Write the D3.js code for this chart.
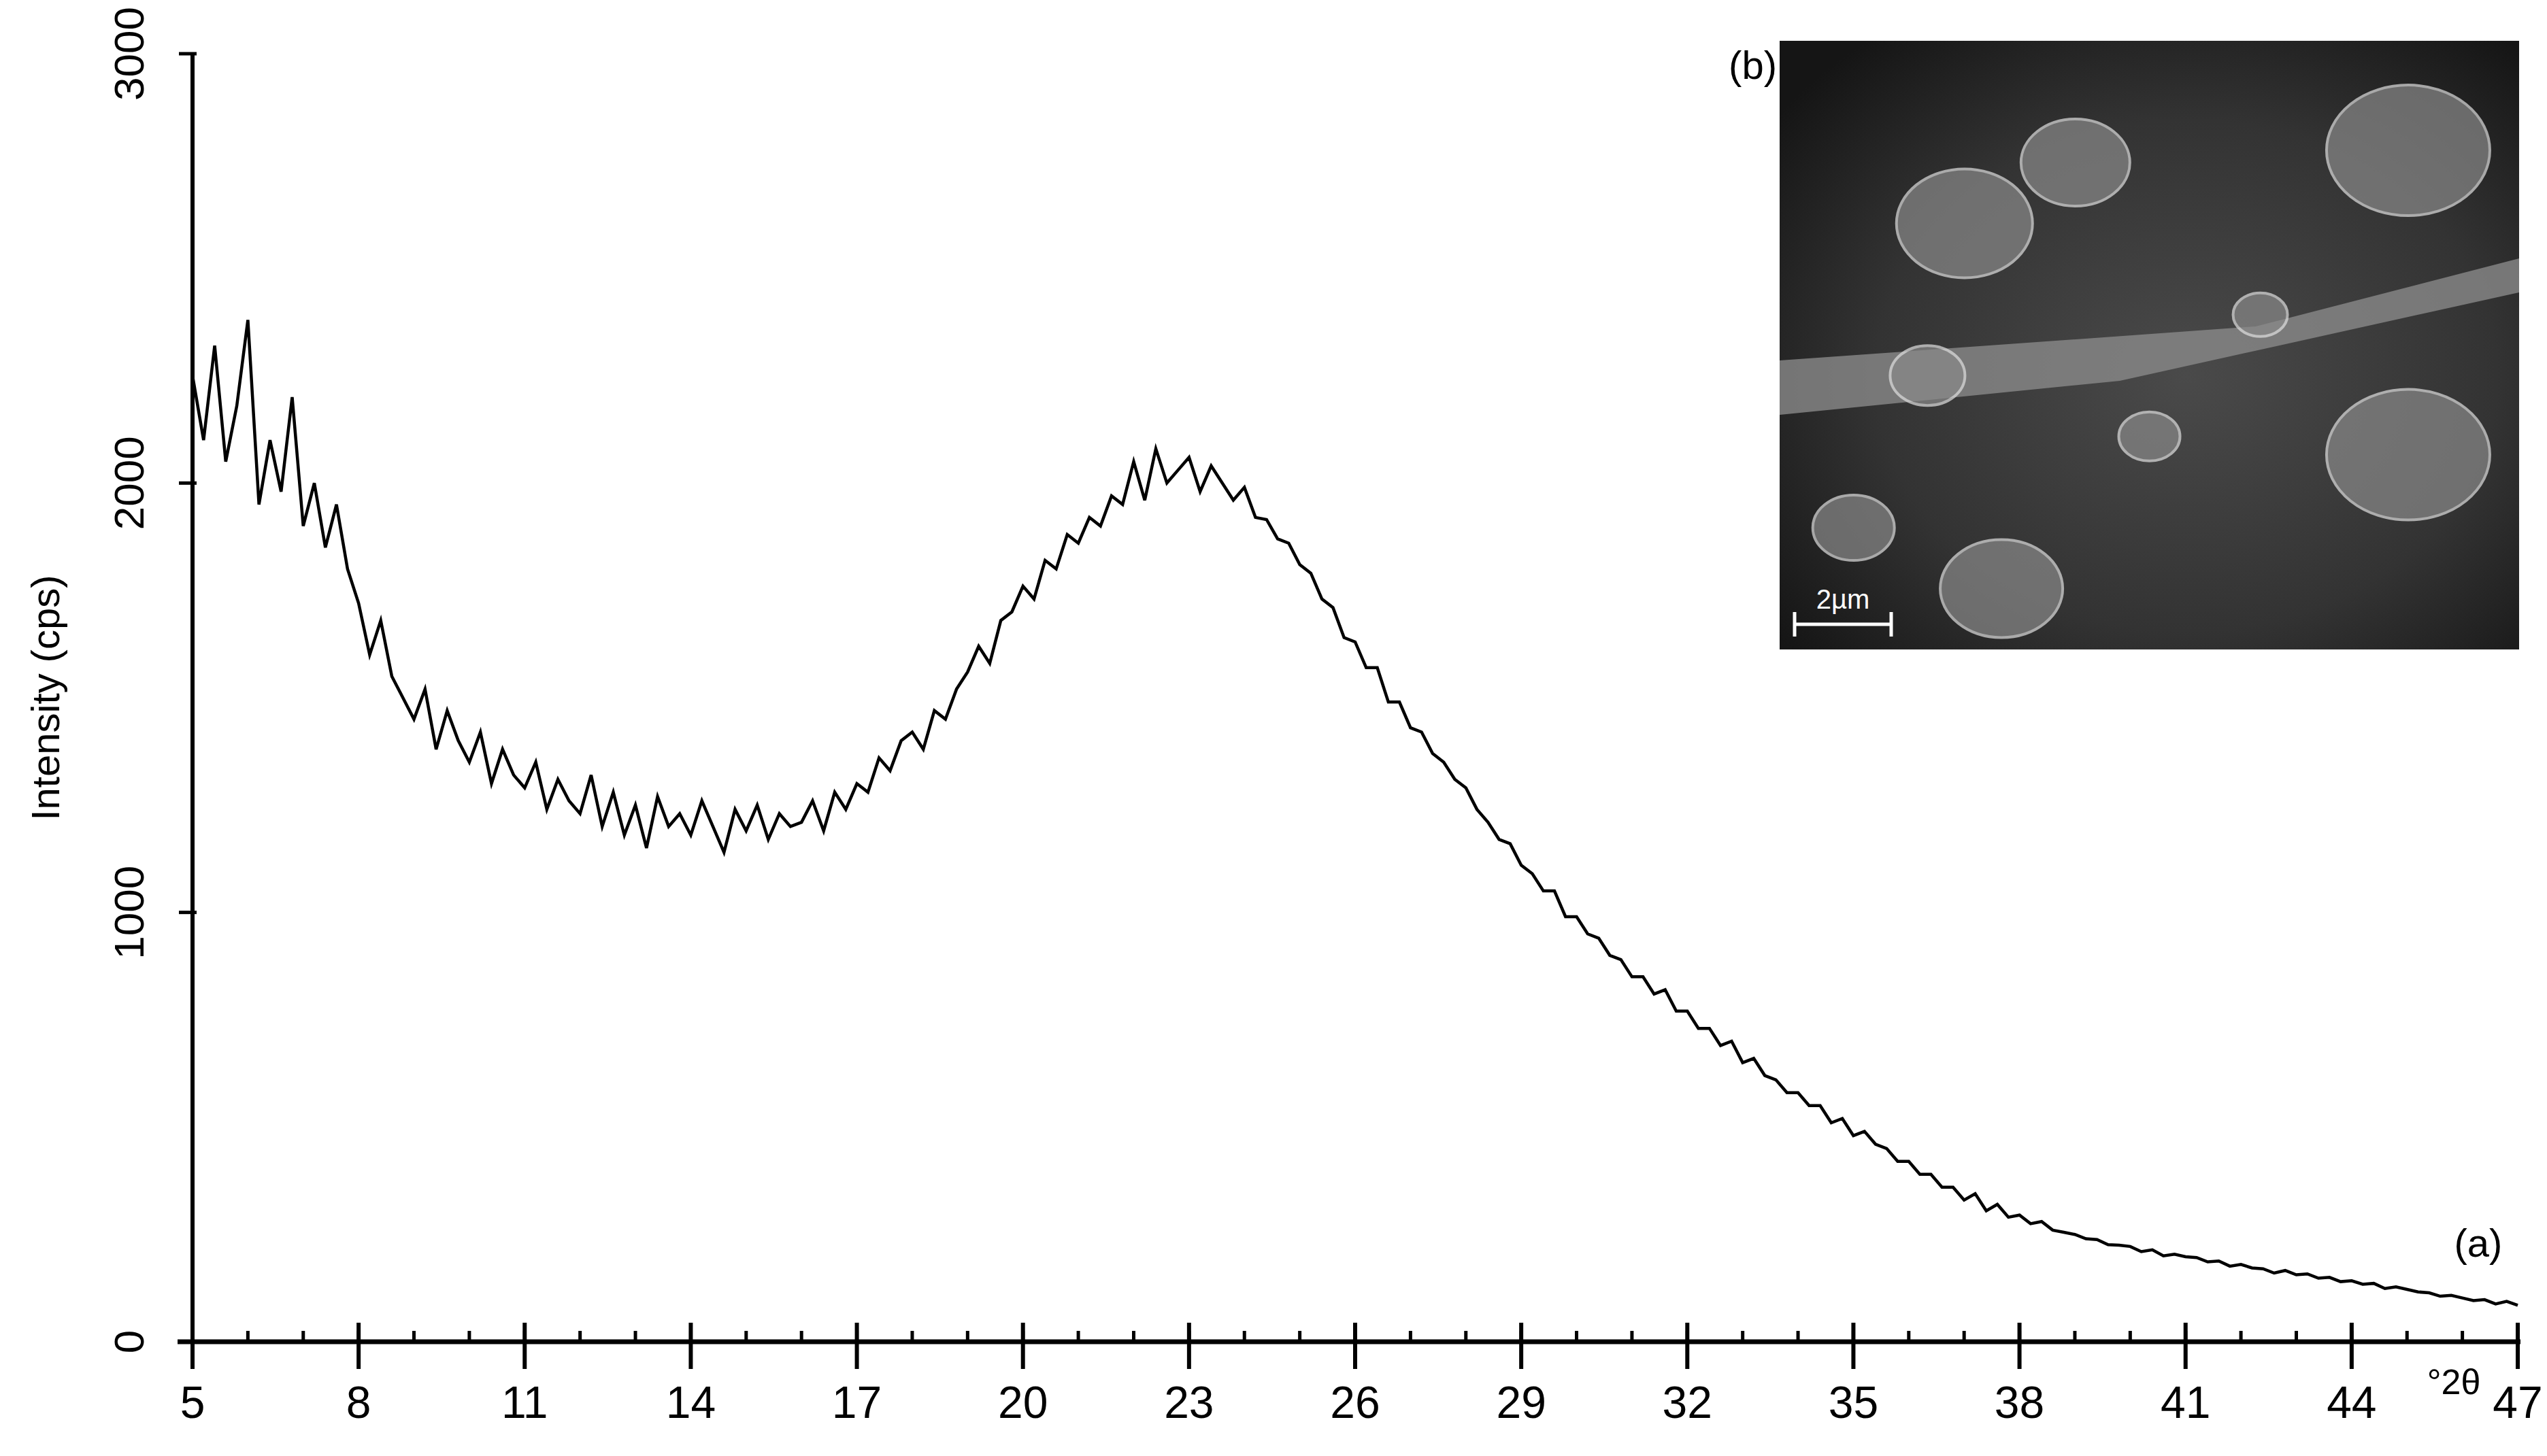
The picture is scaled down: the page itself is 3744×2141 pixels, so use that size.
<!DOCTYPE html>
<html>
<head>
<meta charset="utf-8">
<script src="https://cdn.jsdelivr.net/npm/d3@7"></script>
<style>
  body { margin: 0; background: #fff; }
  text { font-family: "Liberation Sans", Arial, sans-serif; }
</style>
</head>
<body>
<div id="chart"></div>
<script>
// diffraction scan, read every 0.2 deg from 5 to 47
var xStart = 5, xStep = 0.2;
var intensity = [
  2250,2100,2320,2050,2180, 2380,1950,2100,1980,2200,
  1900,2000,1850,1950,1800, 1720,1600,1680,1550,1500,
  1450,1520,1380,1470,1400, 1350,1420,1300,1380,1320,
  1290,1350,1240,1310,1260, 1230,1320,1200,1280,1180,
  1250,1150,1270,1200,1230, 1180,1260,1200,1140,1240,
  1190,1250,1170,1230,1200, 1210,1260,1190,1280,1240,
  1300,1280,1360,1330,1400, 1420,1380,1470,1450,1520,
  1560,1620,1580,1680,1700, 1760,1730,1820,1800,1880,
  1860,1920,1900,1970,1950, 2050,1960,2080,2000,2030,
  2060,1980,2040,2000,1960, 1990,1920,1915,1870,1860,
  1810,1790,1730,1710,1640, 1630,1570,1570,1490,1490,
  1430,1420,1370,1350,1310, 1290,1240,1210,1170,1160,
  1110,1090,1050,1050,990, 990,950,940,900,890,
  850,850,810,820,770, 770,730,730,690,700,
  650,660,620,610,580, 580,550,550,510,520,
  480,490,460,450,420, 420,390,390,360,360,
  330,345,305,320,290, 295,275,280,260,255,
  250,240,238,226,225, 222,210,214,200,204,
  198,196,186,188,176, 180,172,170,160,166,
  156,158,148,150,140, 142,134,136,124,128,
  122,116,114,106,108, 102,96,98,88,94,
  85
];
var xTicks = [5,8,11,14,17,20,23,26,29,32,35,38,41,44,47];
var yTicks = [0,1000,2000,3000];

var W = 3744, H = 2141;
var mLeft = 283, mRight = 3701, mTop = 79, mBottom = 1973;

var svg = d3.select("#chart").append("svg")
    .attr("width", W).attr("height", H);

var x = d3.scaleLinear().domain([5, 47]).range([mLeft, mRight]);
var y = d3.scaleLinear().domain([0, 3000]).range([mBottom, mTop]);

// inset micrograph stand-in
var ix = 2616, iy = 60, iw = 1087, ih = 895;
var defs = svg.append("defs");
var g1 = defs.append("radialGradient").attr("id", "sem").attr("cx", "55%").attr("cy", "55%").attr("r", "70%");
g1.append("stop").attr("offset", "0%").attr("stop-color", "#4a4a4a");
g1.append("stop").attr("offset", "60%").attr("stop-color", "#333");
g1.append("stop").attr("offset", "100%").attr("stop-color", "#151515");
svg.append("rect").attr("x", ix).attr("y", iy).attr("width", iw).attr("height", ih).attr("fill", "url(#sem)");
svg.append("path")
    .attr("d", "M" + ix + "," + (iy + 470) + " L" + (ix + 700) + "," + (iy + 420) + " L" + (ix + 1087) + "," + (iy + 320) + " L" + (ix + 1087) + "," + (iy + 370) + " L" + (ix + 500) + "," + (iy + 500) + " L" + ix + "," + (iy + 550) + "Z")
    .attr("fill", "#8a8a8a").attr("opacity", 0.8);
var blobs = [[0.25,0.3,100],[0.4,0.2,80],[0.85,0.18,120],[0.2,0.55,55],[0.5,0.65,45],[0.85,0.68,120],[0.3,0.9,90],[0.65,0.45,40],[0.1,0.8,60]];
blobs.forEach(function(b) {
  svg.append("ellipse").attr("cx", ix + b[0] * iw).attr("cy", iy + b[1] * ih)
      .attr("rx", b[2]).attr("ry", b[2] * 0.8)
      .attr("fill", "#8a8a8a").attr("stroke", "#e0e0e0").attr("stroke-width", 4).attr("opacity", 0.7);
});
svg.append("line").attr("x1", 2638).attr("x2", 2780).attr("y1", 918).attr("y2", 918)
    .attr("stroke", "#fff").attr("stroke-width", 5);
[2638, 2780].forEach(function(v) {
  svg.append("line").attr("x1", v).attr("x2", v).attr("y1", 900).attr("y2", 936)
      .attr("stroke", "#fff").attr("stroke-width", 5);
});
svg.append("text").attr("x", 2709).attr("y", 895).attr("text-anchor", "middle")
    .attr("font-size", 40).attr("fill", "#fff").text("2µm");
svg.append("text").attr("x", 2612).attr("y", 116).attr("text-anchor", "end")
    .attr("font-size", 58).text("(b)");

// data line
var line = d3.line()
    .x(function(d, i) { return x(xStart + i * xStep); })
    .y(function(d) { return y(d); });
svg.append("path").datum(intensity)
    .attr("d", line).attr("fill", "none").attr("stroke", "#000").attr("stroke-width", 4.5);

// x axis
var xAxis = svg.append("g").attr("transform", "translate(0," + mBottom + ")");
xAxis.append("line").attr("x1", mLeft - 22).attr("x2", mRight + 4).attr("stroke", "#000").attr("stroke-width", 7);
xAxis.selectAll(".minor").data(d3.range(5, 48)).enter().append("line")
    .attr("x1", function(d) { return x(d); }).attr("x2", function(d) { return x(d); })
    .attr("y1", -16).attr("y2", 0).attr("stroke", "#000").attr("stroke-width", 5);
xAxis.selectAll(".major").data(xTicks).enter().append("line")
    .attr("x1", function(d) { return x(d); }).attr("x2", function(d) { return x(d); })
    .attr("y1", -28).attr("y2", 40).attr("stroke", "#000").attr("stroke-width", 6);
xAxis.selectAll(".lab").data(xTicks).enter().append("text")
    .attr("x", function(d) { return x(d); }).attr("y", 112)
    .attr("text-anchor", "middle").attr("font-size", 66).text(function(d) { return d; });

// y axis
var yAxis = svg.append("g").attr("transform", "translate(" + mLeft + ",0)");
yAxis.append("line").attr("y1", mTop).attr("y2", mBottom).attr("stroke", "#000").attr("stroke-width", 6);
yAxis.selectAll(".major").data(yTicks).enter().append("line")
    .attr("y1", function(d) { return y(d); }).attr("y2", function(d) { return y(d); })
    .attr("x1", -20).attr("x2", 6).attr("stroke", "#000").attr("stroke-width", 5);
yAxis.selectAll(".lab").data(yTicks).enter().append("text")
    .attr("transform", function(d) { return "translate(-72," + y(d) + ") rotate(-90)"; })
    .attr("text-anchor", "middle").attr("font-size", 62).text(function(d) { return d; });

svg.append("text").attr("transform", "translate(87," + ((mTop + mBottom) / 2) + ") rotate(-90)")
    .attr("text-anchor", "middle").attr("font-size", 58).text("Intensity (cps)");

svg.append("text").attr("x", 3607).attr("y", 2050).attr("text-anchor", "middle")
    .attr("font-size", 52).text("°2θ");
svg.append("text").attr("x", 3643).attr("y", 1848).attr("text-anchor", "middle")
    .attr("font-size", 58).text("(a)");
</script>
</body>
</html>
